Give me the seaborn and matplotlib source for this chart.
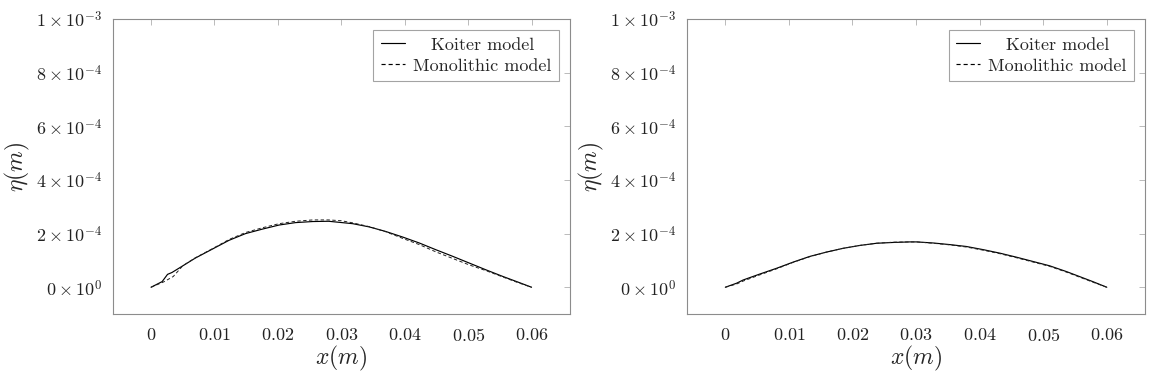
import numpy as np
import pandas as pd
import matplotlib
matplotlib.use("Agg")
import matplotlib.pyplot as plt
import seaborn as sns

# ---- data ----
xk_left = [0, 0.00175, 0.0026, 0.0033, 0.0044, 0.0070, 0.00965, 0.0123, 0.0149, 0.0176,
           0.0202, 0.0228, 0.0255, 0.028, 0.0318, 0.0344, 0.037, 0.0397, 0.0423, 0.0449,
           0.0476, 0.0502, 0.0528, 0.0555, 0.058, 0.060]
yk_left = [0, 0.21, 0.48, 0.55, 0.71, 1.09, 1.42, 1.75, 2.00, 2.17,
           2.32, 2.41, 2.45, 2.46, 2.37, 2.25, 2.08, 1.87, 1.65, 1.40,
           1.15, 0.90, 0.65, 0.40, 0.18, 0]
xm_left = [0, 0.002, 0.0035, 0.005, 0.007, 0.0097, 0.0123, 0.0149, 0.0176, 0.0202,
           0.0228, 0.0255, 0.028, 0.030, 0.0318, 0.0344, 0.037, 0.0397, 0.0423, 0.0449,
           0.0476, 0.0502, 0.0528, 0.0555, 0.058, 0.060]
ym_left = [0, 0.20, 0.40, 0.80, 1.10, 1.44, 1.78, 2.04, 2.22, 2.37,
           2.46, 2.51, 2.51, 2.48, 2.40, 2.26, 2.07, 1.82, 1.59, 1.32,
           1.07, 0.83, 0.62, 0.38, 0.16, 0]

xk_right = [0, 0.00177, 0.0028, 0.0054, 0.0081, 0.0107, 0.0133, 0.0159, 0.0185, 0.0212,
            0.0238, 0.0264, 0.0290, 0.0301, 0.0327, 0.0353, 0.0379, 0.0406, 0.0432, 0.0458,
            0.0484, 0.0510, 0.0537, 0.0578, 0.060]
yk_right = [0, 0.15, 0.27, 0.49, 0.71, 0.94, 1.15, 1.31, 1.45, 1.56,
            1.64, 1.67, 1.69, 1.69, 1.65, 1.59, 1.52, 1.40, 1.27, 1.12,
            0.96, 0.80, 0.58, 0.21, 0]
xm_right = xk_right
ym_right = [0, 0.12, 0.23, 0.46, 0.69, 0.93, 1.14, 1.31, 1.45, 1.56,
            1.64, 1.68, 1.69, 1.69, 1.64, 1.58, 1.50, 1.38, 1.25, 1.10,
            0.94, 0.78, 0.56, 0.19, 0]

series_names = ["Koiter model", "Monolithic model"]
x_ticks = [0, 0.01, 0.02, 0.03, 0.04, 0.05, 0.06]
x_tick_labels = ["$0$", "$0.01$", "$0.02$", "$0.03$", "$0.04$", "$0.05$", "$0.06$"]
y_ticks = [0, 2e-4, 4e-4, 6e-4, 8e-4, 1e-3]
y_tick_labels = [r"$0\times10^{0}$", r"$2\times10^{-4}$", r"$4\times10^{-4}$",
                 r"$6\times10^{-4}$", r"$8\times10^{-4}$", r"$1\times10^{-3}$"]
x_label = r"$x(m)$"
y_label = r"$\eta(m)$"

# ---- style ----
sns.set_theme(style="white")
plt.rcParams["font.family"] = ["cmr10", "DejaVu Serif"]
plt.rcParams["mathtext.fontset"] = "cm"
plt.rcParams["axes.formatter.use_mathtext"] = True

fig = plt.figure(figsize=(11.53, 3.73), dpi=100)
ax1 = fig.add_axes([0.098, 0.158, 0.396, 0.791])
ax2 = fig.add_axes([0.596, 0.158, 0.397, 0.791])

def build(xk, yk, xm, ym):
    d1 = pd.DataFrame({"x": xk, "y": np.array(yk) * 1e-4, "model": series_names[0]})
    d2 = pd.DataFrame({"x": xm, "y": np.array(ym) * 1e-4, "model": series_names[1]})
    return pd.concat([d1, d2], ignore_index=True)

frame_col = "#8c8c8c"
legends = []
for ax, (xk, yk, xm, ym) in zip(
        [ax1, ax2],
        [(xk_left, yk_left, xm_left, ym_left), (xk_right, yk_right, xm_right, ym_right)]):
    df = build(xk, yk, xm, ym)
    sns.lineplot(data=df, x="x", y="y", style="model", hue="model",
                 palette={series_names[0]: "black", series_names[1]: "#222222"},
                 dashes={series_names[0]: "", series_names[1]: (3.5, 2.5)},
                 sort=False, estimator=None, ax=ax, linewidth=0.85, legend=True)
    for ln in ax.get_lines():
        if ln.get_linestyle() == "--":
            ln.set_linewidth(0.7)
    ax.set_xlim(-0.006, 0.066)
    ax.set_ylim(-1e-4, 1e-3)
    ax.set_xticks(x_ticks)
    ax.set_xticklabels(x_tick_labels)
    ax.set_yticks(y_ticks)
    ax.set_yticklabels(y_tick_labels)
    ax.tick_params(axis="both", direction="in", length=4, width=0.6, color="#b0b0b0",
                   labelsize=13, top=True, right=True, pad=8, labelcolor="#222222")
    ax.tick_params(axis="x", pad=9)
    for sp in ax.spines.values():
        sp.set_visible(True)
        sp.set_color(frame_col)
        sp.set_linewidth(0.8)
    ax.set_xlabel(x_label, fontsize=17, labelpad=0)
    ax.set_ylabel(y_label, fontsize=17, labelpad=3)
    leg = ax.legend(loc="upper right", fontsize=13, frameon=True, fancybox=False,
                    edgecolor=frame_col, borderpad=0.4, handlelength=1.35,
                    handletextpad=0.45, labelspacing=0.3, borderaxespad=0.6)
    leg.get_frame().set_linewidth(0.8)
    for h in leg.get_lines():
        h.set_color("black")
        h.set_linewidth(0.85)
    legends.append(leg)

# centre the first legend entry's text within the text column (as in the reference)
fig.canvas.draw()
renderer = fig.canvas.get_renderer()
for leg in legends:
    w0 = leg.texts[0].get_window_extent(renderer).width
    w1 = leg.texts[1].get_window_extent(renderer).width
    leg.texts[0].set_x((w1 - w0) / 2.0)

fig.savefig("out.png", dpi=100)
